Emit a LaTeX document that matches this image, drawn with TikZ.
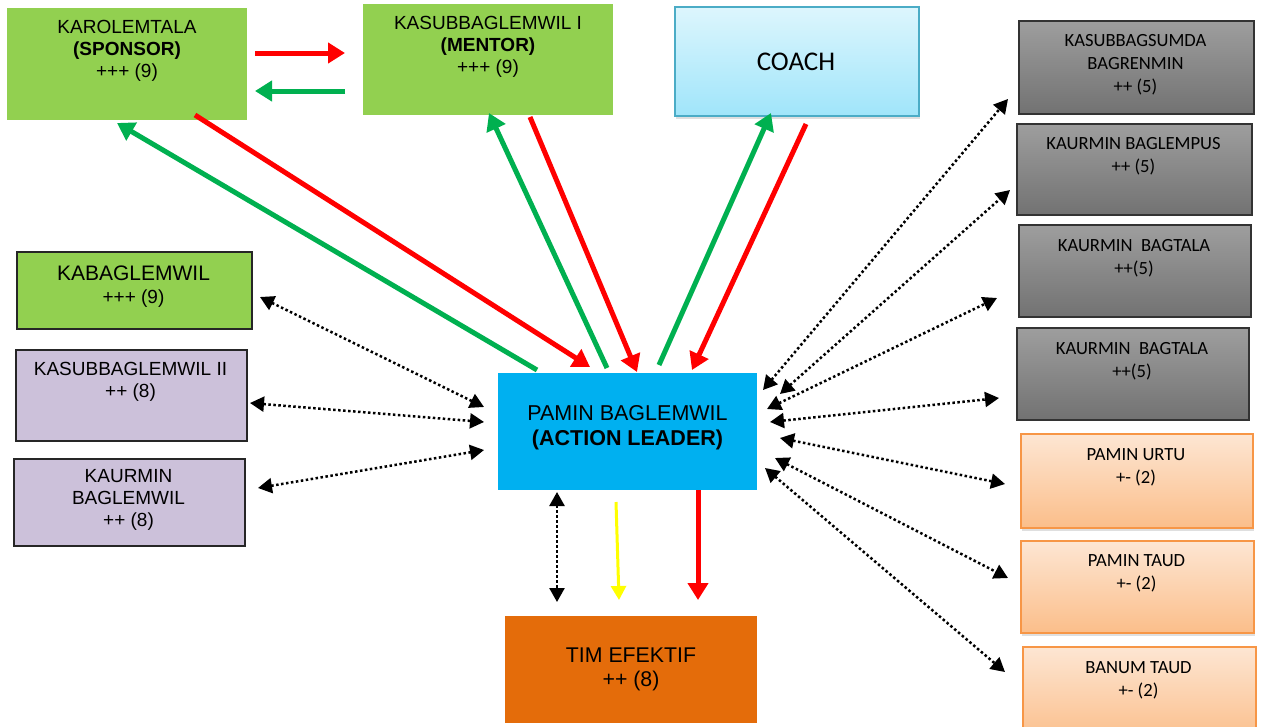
\documentclass[tikz,border=0pt]{standalone}
\usepackage{fontspec}
\setmainfont{Liberation Sans}
\newfontfamily\calib{Carlito}
\usetikzlibrary{arrows.meta,shadows}
\definecolor{lgreen}{HTML}{92D050}
\definecolor{arrgreen}{HTML}{00B050}
\definecolor{arrred}{HTML}{FF0000}
\definecolor{arryellow}{HTML}{FFFF00}
\definecolor{lav}{HTML}{CCC1DA}
\definecolor{cyanfill}{HTML}{00B0F0}
\definecolor{timfill}{HTML}{E46C0A}
\definecolor{coachtop}{HTML}{DDF6FD}
\definecolor{coachbot}{HTML}{A0E5FA}
\definecolor{coachline}{HTML}{4BACC6}
\definecolor{graytop}{HTML}{9E9E9E}
\definecolor{graybot}{HTML}{727272}
\definecolor{peachtop}{HTML}{FDE6D3}
\definecolor{peachbot}{HTML}{FBBE8A}
\definecolor{peachline}{HTML}{F79646}
\begin{document}
\begin{tikzpicture}[x=1pt,y=-1pt,
  box/.style={rectangle, anchor=north west, inner sep=0pt},
  greenbox/.style={box, fill=lgreen},
  greenline/.style={box, fill=lgreen, draw=black!85, line width=1.5pt},
  lavbox/.style={box, fill=lav, draw=black!85, line width=1.5pt},
  coachbox/.style={box, top color=coachtop, bottom color=coachbot, draw=coachline, line width=1.5pt,
     drop shadow={shadow xshift=1pt, shadow yshift=-3pt, opacity=0.25}},
  graybox/.style={box, top color=graytop, bottom color=graybot, draw=black!80, line width=1.5pt},
  peachbox/.style={box, top color=peachtop, bottom color=peachbot, draw=peachline, line width=1.8pt,
     drop shadow={shadow xshift=1pt, shadow yshift=-3pt, opacity=0.25}},
  atext/.style={align=center, inner sep=0pt, font=\fontsize{19}{22}\selectfont},
  ctext/.style={align=center, inner sep=0pt, font=\calib\fontsize{18.6}{23}\selectfont},
  fat/.style={line width=5pt, -{Triangle[length=17pt,width=20pt]}},
  dotlink/.style={line width=2.5pt, dash pattern=on 2.5pt off 2.5pt,
     {Triangle[length=14pt,width=15pt]}-{Triangle[length=14pt,width=15pt]}},
]
\useasboundingbox (0,0) rectangle (1261,726);
\fill[white] (0,0) rectangle (1261,726);

% ---------- boxes ----------
\node[greenbox, minimum width=240pt, minimum height=112pt] (sponsor) at (7,8) {};
\node[greenbox, minimum width=250pt, minimum height=111pt] (mentor) at (363,4) {};
\node[coachbox, minimum width=244pt, minimum height=109pt] (coach) at (674,6) {};

\node[graybox, minimum width=235pt, minimum height=93pt] (g1) at (1018,20) {};
\node[graybox, minimum width=235pt, minimum height=91pt] (g2) at (1016,123) {};
\node[graybox, minimum width=232pt, minimum height=92pt] (g3) at (1018,224) {};
\node[graybox, minimum width=232pt, minimum height=92pt] (g4) at (1016,327) {};
\node[peachbox, minimum width=232pt, minimum height=94pt] (p1) at (1020,433) {};
\node[peachbox, minimum width=233pt, minimum height=92pt] (p2) at (1020,540) {};
\node[peachbox, minimum width=233pt, minimum height=95pt] (p3) at (1022,646) {};

\node[greenline, minimum width=235pt, minimum height=77pt] (kabag) at (16,251) {};
\node[lavbox, minimum width=231pt, minimum height=91pt] (ks2) at (15,349) {};
\node[lavbox, minimum width=231pt, minimum height=87pt] (kaur) at (13,458) {};

\node[box, fill=cyanfill, minimum width=259pt, minimum height=117pt] (pamin) at (498,373) {};
\node[box, fill=timfill, minimum width=252pt, minimum height=107pt] (tim) at (505,616) {};

% ---------- texts ----------
\node[atext] (sponsor-t) at (127,51) {KAROLEMTALA\\\textbf{(SPONSOR)}\\+++ (9)};
\node[atext] (mentor-t) at (488,47) {KASUBBAGLEMWIL I\\\textbf{(MENTOR)}\\+++ (9)};
\node[align=center, inner sep=0pt, font=\calib\fontsize{27}{30}\selectfont] (coach-t) at (796,62) {COACH};

\node[ctext] (g1-t) at (1135.5,65) {KASUBBAGSUMDA\\BAGRENMIN\\++ (5)};
\node[ctext] (g2-t) at (1133.5,156.5) {KAURMIN BAGLEMPUS\\++ (5)};
\node[ctext] (g3-t) at (1134,258.5) {KAURMIN~~BAGTALA\\++(5)};
\node[ctext] (g4-t) at (1132,361.5) {KAURMIN~~BAGTALA\\++(5)};
\node[ctext] (p1-t) at (1136,467.5) {PAMIN URTU\\+- (2)};
\node[ctext] (p2-t) at (1136.5,573.5) {PAMIN TAUD\\+- (2)};
\node[ctext] (p3-t) at (1138.5,680.5) {BANUM TAUD\\+- (2)};

\node[align=center, inner sep=0pt, font=\fontsize{21}{23}\selectfont] (kabag-t) at (133.5,286.5)
  {KABAGLEMWIL\\{\fontsize{19}{21}\selectfont +++ (9)}};
\node[atext] (ks2-t) at (130.5,381.5) {KASUBBAGLEMWIL II\\++ (8)};
\node[atext] (kaur-t) at (128.5,500) {KAURMIN\\BAGLEMWIL\\++ (8)};

\node[align=center, inner sep=0pt, font=\fontsize{21.5}{25}\selectfont] (pamin-t) at (627.5,427.5)
  {PAMIN BAGLEMWIL\\\textbf{(ACTION LEADER)}};
\node[align=center, inner sep=0pt, font=\fontsize{21.3}{24}\selectfont] (tim-t) at (631,669)
  {TIM EFEKTIF\\++ (8)};

% ---------- connector end points ----------
\coordinate (sm1) at (255,53);  \coordinate (sm2) at (345,53);
\coordinate (ms1) at (345,91);  \coordinate (ms2) at (255,91);
\coordinate (ps1) at (537,370); \coordinate (ps2) at (117,123);
\coordinate (sp1) at (195,115); \coordinate (sp2) at (590,367);
\coordinate (pm1) at (607,368); \coordinate (pm2) at (489,113);
\coordinate (mp1) at (530,117); \coordinate (mp2) at (637,372);
\coordinate (pc1) at (659,365); \coordinate (pc2) at (771,113);
\coordinate (cp1) at (806,124); \coordinate (cp2) at (692,370);

\coordinate (kb1) at (260,297); \coordinate (kb2) at (484,407);
\coordinate (ks1) at (250,403); \coordinate (ks2e) at (484,422);
\coordinate (ku1) at (258,488); \coordinate (ku2) at (484,450);

\coordinate (bt1) at (557,492); \coordinate (bt2) at (557,602);
\coordinate (yt1) at (616,502); \coordinate (yt2) at (619,600);
\coordinate (rt1) at (698,490); \coordinate (rt2) at (698,600);

\coordinate (rg1a) at (763,390); \coordinate (rg1b) at (1008,99);
\coordinate (rg2a) at (780,394); \coordinate (rg2b) at (1010,190);
\coordinate (rg3a) at (767,409); \coordinate (rg3b) at (997,298);
\coordinate (rg4a) at (770,422); \coordinate (rg4b) at (999,398);
\coordinate (rp1a) at (780,438); \coordinate (rp1b) at (1005,484);
\coordinate (rp2a) at (775,458); \coordinate (rp2b) at (1008,578);
\coordinate (rp3a) at (765,468); \coordinate (rp3b) at (1005,672);

% ---------- connectors ----------
\draw[fat, arrred] (sm1) -- (sm2);
\draw[fat, arrgreen] (ms1) -- (ms2);
\draw[fat, arrgreen] (ps1) -- (ps2);
\draw[fat, arrred] (sp1) -- (sp2);
\draw[fat, arrgreen] (pm1) -- (pm2);
\draw[fat, arrred] (mp1) -- (mp2);
\draw[fat, arrgreen] (pc1) -- (pc2);
\draw[fat, arrred] (cp1) -- (cp2);

\draw[dotlink] (kb1) -- (kb2);
\draw[dotlink] (ks1) -- (ks2e);
\draw[dotlink] (ku1) -- (ku2);

\draw[dotlink] (bt1) -- (bt2);
\draw[line width=3pt, arryellow, -{Triangle[length=14pt,width=15pt]}] (yt1) -- (yt2);
\draw[fat, arrred] (rt1) -- (rt2);

\draw[dotlink] (rg1a) -- (rg1b);
\draw[dotlink] (rg2a) -- (rg2b);
\draw[dotlink] (rg3a) -- (rg3b);
\draw[dotlink] (rg4a) -- (rg4b);
\draw[dotlink] (rp1a) -- (rp1b);
\draw[dotlink] (rp2a) -- (rp2b);
\draw[dotlink] (rp3a) -- (rp3b);
\end{tikzpicture}
\end{document}
